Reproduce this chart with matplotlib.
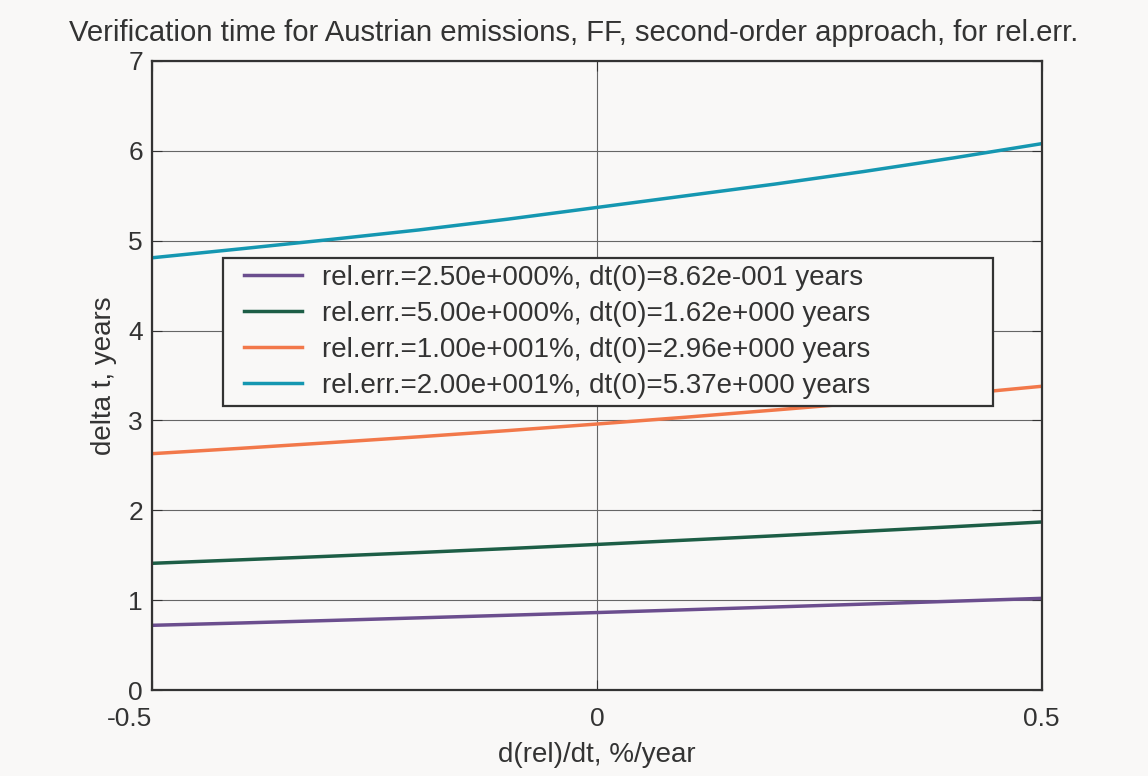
import matplotlib
matplotlib.use('Agg')
import matplotlib.pyplot as plt
from matplotlib.legend_handler import HandlerLine2D
import numpy as np

plt.rcParams['font.family'] = ['Liberation Sans', 'DejaVu Sans']

# data
rate = [-0.5, -0.4, -0.3, -0.2, -0.1, 0.0, 0.1, 0.2, 0.3, 0.4, 0.5]
dt_2p5 = [0.72, 0.746, 0.774, 0.803, 0.832, 0.862, 0.893, 0.924, 0.956, 0.988, 1.02]
dt_5 = [1.41, 1.449, 1.489, 1.53, 1.574, 1.62, 1.668, 1.716, 1.766, 1.817, 1.87]
dt_10 = [2.63, 2.69, 2.753, 2.818, 2.887, 2.96, 3.036, 3.116, 3.198, 3.286, 3.38]
dt_20 = [4.81, 4.91, 5.013, 5.12, 5.24, 5.37, 5.5, 5.63, 5.77, 5.92, 6.08]
labels = ['rel.err.=2.50e+000%, dt(0)=8.62e-001 years',
          'rel.err.=5.00e+000%, dt(0)=1.62e+000 years',
          'rel.err.=1.00e+001%, dt(0)=2.96e+000 years',
          'rel.err.=2.00e+001%, dt(0)=5.37e+000 years']
colors = ['#6b4e8e', '#1d5e46', '#f2784a', '#1597b1']

bg = '#f9f8f7'
txt = '#333333'

fig = plt.figure(figsize=(11.48, 7.76), dpi=100, facecolor=bg)
ax = fig.add_axes([0.1324, 0.1108, 0.775, 0.8106], facecolor=bg)

for ys, c, lab in zip([dt_2p5, dt_5, dt_10, dt_20], colors, labels):
    ax.plot(rate, ys, color=c, lw=2.5, label=lab)

ax.set_xlim(-0.5, 0.5)
ax.set_ylim(0, 7)
ax.set_xticks([-0.5, 0, 0.5])
ax.set_xticklabels(['-0.5', '0', '0.5'])
ax.set_yticks(range(8))
ax.grid(True, color='#666666', lw=0.8)
ax.set_axisbelow(True)
for s in ax.spines.values():
    s.set_color(txt)
    s.set_linewidth(1.6)
ax.tick_params(direction='in', top=True, right=True, length=7, color=txt,
               labelsize=19, labelcolor=txt)
ax.tick_params(axis='x', pad=12)
ax.tick_params(axis='y', pad=6.5)
ax.get_xticklabels()[0].set_ha('right')

ax.set_xlabel('d(rel)/dt, %/year', fontsize=20, color=txt, labelpad=8)
ax.set_ylabel('delta t, years', fontsize=20, color=txt, labelpad=8)
fig.text(0.5, 0.958, 'Verification time for Austrian emissions, FF, second-order approach, for rel.err.',
         ha='center', va='center', fontsize=21.1, color=txt)

leg = ax.legend(loc='upper left', bbox_to_anchor=(0.0798, 0.453, 0.866, 0.2338),
                mode='expand', borderaxespad=0, borderpad=0.25,
                fontsize=20, handlelength=2.6, handletextpad=0.7,
                fancybox=False, framealpha=1, facecolor=bg, edgecolor=txt,
                labelspacing=0.36,
                handler_map={plt.Line2D: HandlerLine2D(xpad=0.5)})
leg.get_frame().set_linewidth(1.6)
for t in leg.get_texts():
    t.set_color(txt)

fig.savefig('out.png', dpi=100, facecolor=bg)
